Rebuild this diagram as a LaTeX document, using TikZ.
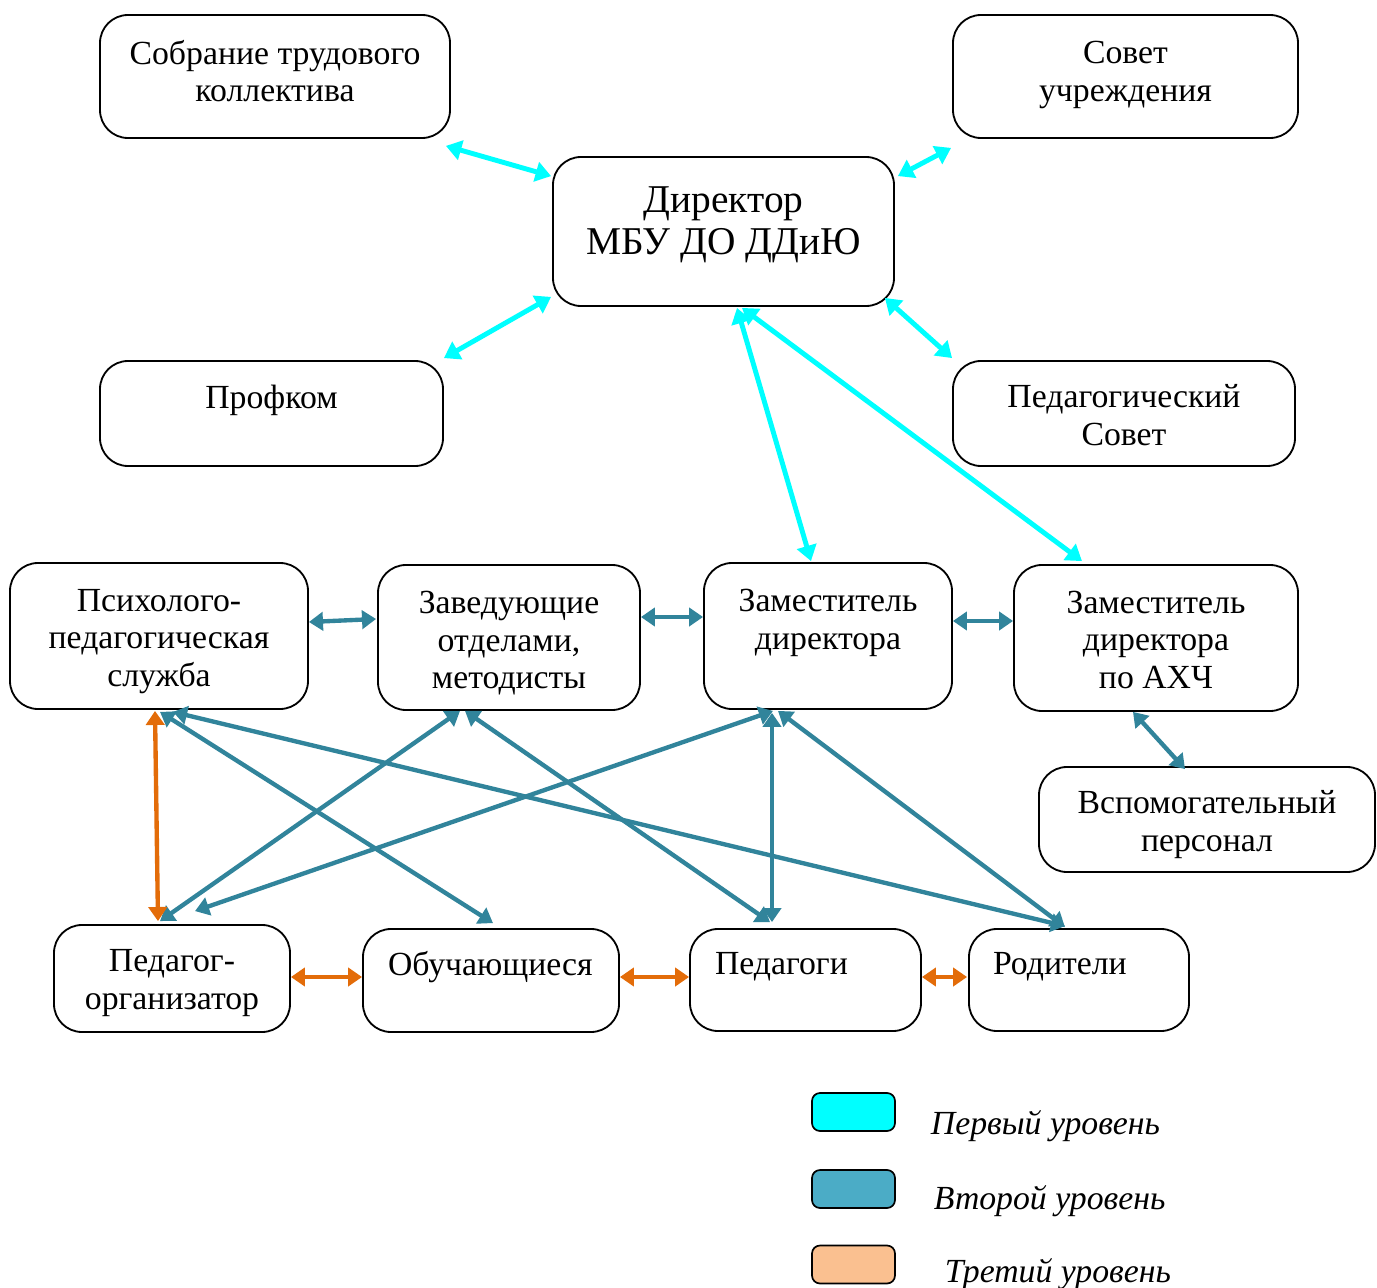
\documentclass[tikz,border=0pt]{standalone}
\usepackage{fontspec}
\setmainfont{Liberation Serif}
\usetikzlibrary{arrows.meta}
\definecolor{levelone}{HTML}{00FFFF}
\definecolor{leveltwo}{HTML}{31849B}
\definecolor{levelthree}{HTML}{E36C09}
\definecolor{leveltwofill}{HTML}{4BACC6}
\definecolor{levelthreefill}{HTML}{FAC090}

\begin{document}
\begin{tikzpicture}[
      x=0.025cm, y=-0.025cm,
      box/.style 2 args={draw, line width=1.3pt, rounded corners=0.7cm,
        minimum width=#1*0.025cm, minimum height=#2*0.025cm, inner sep=0pt,
        align=center, font=\fontsize{24}{26.7}\selectfont},
      left text/.style={align=left, text width=#1*0.025cm},
      link/.style={<->, >={Triangle[length=10pt,width=13pt]}, line width=3.1pt, color=#1},
      link/.default=leveltwo,
      first link/.style={link=levelone, line width=3.5pt, >={Triangle[length=11pt,width=14pt]}},
      third link/.style={link=levelthree},
      key/.style={draw, line width=1.2pt, rounded corners=0.2cm, fill=#1,
        minimum width=83*0.025cm, minimum height=38*0.025cm},
      key text/.style={anchor=west, font=\fontsize{24}{26.7}\selectfont\itshape}
      ]
    \useasboundingbox (0,0) rectangle (1377,1288);
    % top level
    \node[box={350}{123}] (sobr) at (275,76.5) {Собрание трудового\\коллектива\\[-19pt]\mbox{}};
    \node[box={345}{123}] (sovet) at (1125.5,76.5) {Совет\\учреждения\\[-19pt]\mbox{}};
    \node[box={341}{149}, font=\fontsize{28}{29.8}\selectfont] (dir) at (723.5,231.5) {Директор\\МБУ ДО ДДиЮ\\[-14pt]\mbox{}};
    \node[box={343}{105}] (prof) at (271.5,413.5) {Профком\\[-3pt]\mbox{}};
    \node[box={342}{105}] (pedsov) at (1124,413.5) {Педагогический\\Совет\\[-29pt]\mbox{}};
    % middle level
    \node[box={298}{146}] (psy) at (159,636) {Психолого-\\педагогическая\\служба\\[-29pt]\mbox{}};
    \node[box={262}{145}] (zav) at (509,637.5) {Заведующие\\отделами,\\методисты\\[-30pt]\mbox{}};
    \node[box={248}{146}] (zam) at (828,636) {Заместитель\\директора\\[-3pt]\mbox{}};
    \node[box={284}{146}] (zamahc) at (1156,638) {Заместитель\\директора\\по АХЧ\\[-29pt]\mbox{}};
    \node[box={336}{105}] (vsp) at (1207,819.5) {Вспомогательный\\персонал\\[-29pt]\mbox{}};
    % bottom level
    \node[box={236}{107}] (pedorg) at (172,978.5) {Педагог-\\организатор\\[-28pt]\mbox{}};
    \node[box={256}{103}, left text=206] (obuch) at (491,980.5) {Обучающиеся\\[-3pt]\mbox{}};
    \node[box={231}{102}, left text=181] (pedag) at (805.5,980) {Педагоги\\[-3pt]\mbox{}};
    \node[box={220}{102}, left text=172] (rod) at (1079,980) {Родители\\[-3pt]\mbox{}};

    \draw[first link] ([shift={(-5,7)}]sobr.south east) -- ([shift={(-1,20)}]dir.north west);
    \draw[first link] ([shift={(-1,9)}]sovet.south west) -- ([shift={(3,20)}]dir.north east);
    \draw[first link] ([shift={(0,-2)}]prof.north east) -- ([shift={(-1,-10)}]dir.south west);
    \draw[first link] ([shift={(0,-2)}]pedsov.north west) -- ([shift={(-10,-9)}]dir.south east);
    \draw[first link] ([shift={(13.5,1)}]dir.south) -- ([shift={(-17,-1)}]zam.north);
    \draw[first link] ([shift={(18.5,1)}]dir.south) -- ([shift={(-74,-3)}]zamahc.north);

    \draw[link] ([shift={(0,-14)}]psy.east) -- ([shift={(-1,-18.5)}]zav.west);
    \draw[link] ([shift={(0,-20.5)}]zav.east) -- ([shift={(0,-19)}]zam.west);
    \draw[link] ([shift={(0,-15)}]zam.east) -- ([shift={(0,-17)}]zamahc.west);
    \draw[link] ([shift={(-23,0)}]zamahc.south) -- ([shift={(-22,3)}]vsp.north);
    \draw[link] ([shift={(1,2)}]psy.south) -- ([shift={(2,-5)}]obuch.north);
    \draw[link] ([shift={(14,2)}]psy.south) -- ([shift={(-14,-2)}]rod.north);
    \draw[link] ([shift={(-49,0)}]zav.south) -- ([shift={(-12,-3)}]pedorg.north);
    \draw[link] ([shift={(-44,0)}]zav.south) -- ([shift={(-35.5,-6)}]pedag.north);
    \draw[link] ([shift={(-55,1)}]zam.south) -- ([shift={(23,-13)}]pedorg.north);
    \draw[link] ([shift={(-56,3)}]zam.south) -- ([shift={(-33.5,-6)}]pedag.north);
    \draw[link] ([shift={(-50,1)}]zam.south) -- ([shift={(-14,-1)}]rod.north);

    \draw[third link] ([shift={(-4,1)}]psy.south) -- ([shift={(-14,-3)}]pedorg.north);
    \draw[third link] ([shift={(0,-1.5)}]pedorg.east) -- ([shift={(0,-3.5)}]obuch.west);
    \draw[third link] ([shift={(0,-3.5)}]obuch.east) -- ([shift={(0,-3)}]pedag.west);
    \draw[third link] ([shift={(0,-3)}]pedag.east) -- ([shift={(-1,-3)}]rod.west);

    % legend
    \node[key=levelone] (key one) at (853.5,1112) {};
    \node[key=leveltwofill] (key two) at (853.5,1189) {};
    \node[key=levelthreefill] (key three) at (853.5,1264.5) {};
    \node[key text] (text one) at (926,1126) {Первый уровень};
    \node[key text] (text two) at (929,1201) {Второй уровень};
    \node[key text] (text three) at (940,1274) {Третий уровень};
\end{tikzpicture}
\end{document}
